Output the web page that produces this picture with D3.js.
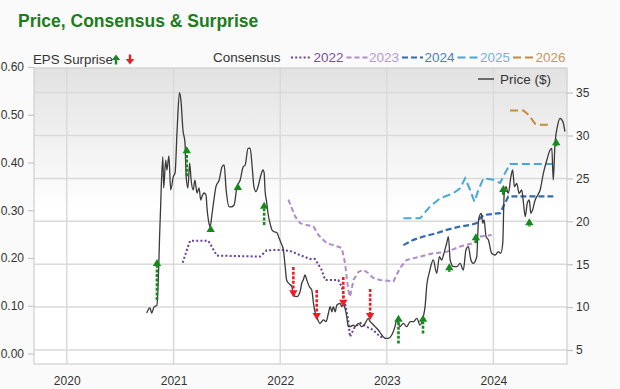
<!DOCTYPE html>
<html><head><meta charset="utf-8">
<script src="https://cdn.jsdelivr.net/npm/d3@7"></script>
<style>
body{margin:0;background:#fafafa;}
svg{display:block;font-family:"Liberation Sans",Arial,Helvetica,sans-serif;}
</style></head><body>
<svg id="c" width="620" height="389"></svg>
<script>
// ---------- DATA ----------
const yearTicks = ["2020-01-01","2021-01-01","2022-01-01","2023-01-01","2024-01-01"];
const epsTicks = [0, 0.1, 0.2, 0.3, 0.4, 0.5, 0.6];
const priceTicks = [5, 10, 15, 20, 25, 30, 35];

const priceSeries = [
["2020-10-01",9.31],["2020-10-12",9.90],["2020-10-18",9.31],["2020-10-26",10.01],["2020-11-05",10.24],
["2020-11-16",20.15],["2020-11-25",27.53],["2020-11-28",23.88],["2020-12-05",27.14],["2020-12-09",25.98],
["2020-12-16",27.61],["2020-12-22",23.65],["2020-12-31",25.20],["2021-01-06",25.63],["2021-01-13",30.64],
["2021-01-21",34.99],["2021-01-26",34.14],["2021-02-02",30.64],["2021-02-09",29.13],["2021-02-13",25.20],
["2021-02-19",23.88],["2021-02-25",26.79],["2021-03-02",24.81],["2021-03-09",23.65],["2021-03-15",24.81],
["2021-03-22",23.30],["2021-03-29",23.88],["2021-04-04",22.48],["2021-04-08",22.87],["2021-04-15",23.30],
["2021-04-22",23.07],["2021-04-25",21.70],["2021-05-02",19.80],["2021-05-06",19.37],["2021-05-13",20.97],
["2021-05-19",22.48],["2021-05-26",24.03],["2021-06-06",24.81],["2021-06-16",26.36],["2021-06-23",26.56],
["2021-06-30",23.65],["2021-07-10",21.70],["2021-07-17",21.67],["2021-07-27",21.90],["2021-08-06",24.03],
["2021-08-17",24.81],["2021-08-27",26.33],["2021-09-03",26.56],["2021-09-13",28.51],["2021-09-20",28.54],
["2021-09-27",26.36],["2021-10-03",24.03],["2021-10-10",23.45],["2021-10-17",24.03],["2021-10-27",25.40],
["2021-11-03",25.98],["2021-11-07",25.63],["2021-11-10",23.65],["2021-11-16",22.13],["2021-11-20",20.97],
["2021-11-27",19.80],["2021-12-04",18.99],["2021-12-11",18.79],["2021-12-21",18.67],["2021-12-28",18.05],
["2022-01-04",17.47],["2022-01-12",16.66],["2022-01-18",14.71],["2022-01-23",13.16],["2022-01-29",12.81],
["2022-02-10",12.38],["2022-02-15",11.41],["2022-02-27",11.21],["2022-03-10",11.79],["2022-03-16",12.81],
["2022-03-21",13.16],["2022-03-27",13.74],["2022-04-02",13.16],["2022-04-11",12.38],["2022-04-19",11.99],
["2022-04-25",10.44],["2022-04-30",9.46],["2022-05-06",8.88],["2022-05-17",8.11],["2022-05-23",8.30],
["2022-05-29",8.50],["2022-06-07",8.30],["2022-06-15",9.28],["2022-06-21",10.05],["2022-06-27",9.46],
["2022-07-02",10.05],["2022-07-08",9.46],["2022-07-14",10.24],["2022-07-25",10.44],["2022-07-31",10.05],
["2022-08-05",10.44],["2022-08-11",9.86],["2022-08-17",8.88],["2022-08-22",7.72],["2022-08-28",7.72],
["2022-09-09",7.91],["2022-09-14",7.72],["2022-09-26",8.11],["2022-10-07",7.72],["2022-10-19",8.11],
["2022-10-30",8.69],["2022-11-05",8.30],["2022-11-11",8.11],["2022-11-22",7.72],["2022-12-03",7.33],
["2022-12-15",6.75],["2022-12-26",6.36],["2023-01-06",6.36],["2023-01-18",6.75],["2023-01-29",7.72],
["2023-02-04",8.50],["2023-02-15",7.72],["2023-02-27",8.11],["2023-03-10",7.72],["2023-03-22",8.30],
["2023-04-02",8.30],["2023-04-14",8.69],["2023-04-25",7.91],["2023-05-06",8.88],["2023-05-12",10.05],
["2023-05-18",12.58],["2023-05-27",14.09],["2023-06-09",15.49],["2023-06-21",13.94],["2023-06-30",15.87],
["2023-07-08",15.49],["2023-07-14",16.07],["2023-07-25",17.44],["2023-07-31",18.21],["2023-08-06",15.49],
["2023-08-17",14.71],["2023-08-29",14.71],["2023-09-09",15.10],["2023-09-20",14.32],["2023-09-29",16.66],
["2023-10-07",17.04],["2023-10-16",15.49],["2023-10-24",15.10],["2023-11-05",15.87],["2023-11-11",20.15],
["2023-11-20",20.93],["2023-11-26",19.77],["2023-11-30",20.15],["2023-12-07",18.21],["2023-12-15",17.82],
["2023-12-26",16.27],["2024-01-07",16.07],["2024-01-18",16.46],["2024-01-26",16.27],["2024-02-02",17.44],
["2024-02-07",23.26],["2024-02-13",24.03],["2024-02-21",23.26],["2024-03-01",25.20],["2024-03-07",25.98],
["2024-03-13",24.03],["2024-03-21",24.43],["2024-03-29",23.26],["2024-04-07",23.65],["2024-04-13",22.10],
["2024-04-19",20.54],["2024-04-26",22.10],["2024-05-03",22.48],["2024-05-08",20.93],["2024-05-14",21.32],
["2024-05-23",22.48],["2024-06-01",23.07],["2024-06-09",23.65],["2024-06-20",25.59],["2024-07-02",27.14],
["2024-07-13",28.31],["2024-07-19",28.51],["2024-07-24",24.81],["2024-07-30",29.09],["2024-08-07",31.02],
["2024-08-16",32.00],["2024-08-26",31.61],["2024-09-02",30.44]
];

const cons2022 = [
["2021-02-01",0.190],["2021-02-26",0.236],["2021-04-30",0.236],["2021-05-29",0.205],["2021-10-24",0.203],
["2021-11-16",0.216],["2021-12-31",0.217],["2022-02-04",0.215],["2022-03-10",0.206],["2022-04-13",0.198],
["2022-04-30",0.198],["2022-05-23",0.175],["2022-06-04",0.154],["2022-07-19",0.154],["2022-07-31",0.139],
["2022-08-11",0.106],["2022-08-22",0.070],["2022-08-28",0.035],["2022-09-03",0.043],["2022-09-14",0.056],
["2022-10-02",0.064],["2022-10-24",0.056],["2022-11-16",0.049],["2022-12-09",0.035],["2022-12-26",0.033]
];
const cons2023 = [
["2022-01-29",0.322],["2022-02-21",0.287],["2022-03-10",0.273],["2022-04-02",0.269],["2022-04-25",0.266],
["2022-05-12",0.248],["2022-06-09",0.231],["2022-07-02",0.227],["2022-07-31",0.221],["2022-08-11",0.189],
["2022-08-22",0.133],["2022-08-28",0.119],["2022-09-09",0.154],["2022-09-26",0.171],["2022-10-13",0.175],
["2022-10-30",0.168],["2022-11-16",0.158],["2022-12-09",0.154],["2023-01-24",0.151],["2023-02-15",0.179],
["2023-03-10",0.196],["2023-04-25",0.203],["2023-06-09",0.210],["2023-07-25",0.213],["2023-09-09",0.224],
["2023-10-24",0.231],["2023-11-16",0.245],["2023-12-26",0.248]
];
const cons2024 = [
["2023-02-27",0.227],["2023-04-02",0.238],["2023-05-06",0.245],["2023-06-21",0.252],["2023-07-25",0.259],
["2023-09-09",0.266],["2023-10-13",0.269],["2023-11-05",0.273],["2023-11-16",0.283],["2023-11-28",0.290],
["2024-01-24",0.294],["2024-02-04",0.308],["2024-02-21",0.329],["2024-07-24",0.329]
];
const cons2025 = [
["2023-02-27",0.283],["2023-04-25",0.283],["2023-05-29",0.308],["2023-07-03",0.325],["2023-08-17",0.336],
["2023-09-09",0.346],["2023-09-26",0.367],["2023-10-13",0.343],["2023-10-28",0.318],["2023-11-11",0.343],
["2023-11-28",0.367],["2024-01-01",0.364],["2024-01-24",0.357],["2024-02-10",0.378],["2024-02-27",0.397],
["2024-07-24",0.397]
];
const cons2026 = [
["2024-02-27",0.509],["2024-04-13",0.509],["2024-04-30",0.500],["2024-05-23",0.481],["2024-06-09",0.479],
["2024-07-19",0.479]
];

const surpriseDates = ["2020-11-05","2021-02-15","2021-05-08","2021-08-09","2021-11-07","2022-02-15","2022-05-06","2022-08-05",
  "2022-11-05","2023-02-10","2023-05-05","2023-08-03","2023-11-02","2024-02-04","2024-05-03","2024-08-03"];
const surpriseEstimate = [0.112,0.371,0.255,0.343,0.269,0.181,0.133,0.160,0.135,0.021,0.042,0.171,0.231,0.332,0.266,0.434];
const surpriseActual   = [0.198,0.434,0.269,0.357,0.318,0.118,0.070,0.098,0.070,0.081,0.081,0.189,0.252,0.353,0.283,0.451];

const consensusYears = ["2022","2023","2024","2025","2026"];

// ---------- STYLE / LAYOUT ----------
const P = {l:34, r:567, t:68, b:364};
const consStyle = {
  "2022": {c:"#6b3f99", t:"#7a519f", dash:"2,2.2", w:2},
  "2023": {c:"#b18bcc", t:"#b79acb", dash:"5,3", w:2},
  "2024": {c:"#2f6bb3", t:"#4f7fbb", dash:"6,3", w:2.2},
  "2025": {c:"#45a8d6", t:"#74b3d6", dash:"8,4", w:2},
  "2026": {c:"#c58b3c", t:"#c49a63", dash:"8,4", w:2}
};
const consData = {"2022":cons2022,"2023":cons2023,"2024":cons2024,"2025":cons2025,"2026":cons2026};
const green = "#14891c", red = "#ee1c24";

const parse = s => new Date(s + "T00:00:00Z");
const svg = d3.select("#c");

const x = d3.scaleUtc().domain([parse("2019-09-11"), parse("2024-09-09")]).range([P.l, P.r]);
const yE = d3.scaleLinear().domain([0, 0.6]).range([353.5, 67]);
const yP = d3.scaleLinear().domain([5, 35]).range([350, 92.6]);

// defs
const defs = svg.append("defs");
const grad = defs.append("linearGradient").attr("id","bg").attr("x1",0).attr("y1",0).attr("x2",0).attr("y2",1);
grad.append("stop").attr("offset","0%").attr("stop-color","#e2e2e2");
grad.append("stop").attr("offset","48%").attr("stop-color","#ffffff");
grad.append("stop").attr("offset","100%").attr("stop-color","#ffffff");
defs.append("clipPath").attr("id","clip").append("rect")
  .attr("x",P.l).attr("y",P.t).attr("width",P.r-P.l).attr("height",P.b-P.t);

// title
svg.append("text").attr("x",18).attr("y",27).attr("fill","#1b7d1b")
  .attr("font-size","17.5px").attr("font-weight","bold").text("Price, Consensus & Surprise");

// plot background
svg.append("rect").attr("x",P.l).attr("y",P.t).attr("width",P.r-P.l).attr("height",P.b-P.t)
  .attr("fill","url(#bg)");

// gridlines
svg.append("g").selectAll("line").data(priceTicks).join("line")
  .attr("x1",P.l).attr("x2",P.r).attr("y1",d=>yP(d)).attr("y2",d=>yP(d))
  .attr("stroke","#dadada").attr("stroke-width",1.5);
svg.append("g").selectAll("line").data(yearTicks).join("line")
  .attr("x1",d=>x(parse(d))).attr("x2",d=>x(parse(d))).attr("y1",P.t).attr("y2",P.b)
  .attr("stroke","#dadada").attr("stroke-width",1.5);

// border
svg.append("rect").attr("x",P.l).attr("y",P.t).attr("width",P.r-P.l).attr("height",P.b-P.t)
  .attr("fill","none").attr("stroke","#cfcfcf").attr("stroke-width",1.2);

// axes
function styleAxis(g){
  g.select(".domain").remove();
  g.selectAll(".tick line").attr("stroke","#c4c4c4").attr("stroke-width",1.2);
  g.selectAll(".tick text").attr("fill","#333").attr("font-size","12px")
    .attr("font-family","'Liberation Sans',Arial,sans-serif");
}
svg.append("g").attr("transform",`translate(${P.l},0)`)
  .call(d3.axisLeft(yE).tickValues(epsTicks).tickFormat(d3.format(".2f")).tickSize(6).tickPadding(4))
  .call(styleAxis);
svg.append("g").attr("transform",`translate(${P.r},0)`)
  .call(d3.axisRight(yP).tickValues(priceTicks).tickFormat(d3.format("d")).tickSize(6).tickPadding(3))
  .call(styleAxis);
svg.append("g").attr("transform",`translate(0,${P.b})`)
  .call(d3.axisBottom(x).tickValues(yearTicks.map(parse)).tickFormat(d3.utcFormat("%Y")).tickSize(0).tickPadding(12))
  .call(styleAxis);

// consensus lines
const plot = svg.append("g").attr("clip-path","url(#clip)");
const lineE = d3.line().x(d=>x(parse(d[0]))).y(d=>yE(d[1]));
consensusYears.forEach(yr=>{
  const s = consStyle[yr];
  plot.append("path").datum(consData[yr]).attr("d",lineE)
    .attr("fill","none").attr("stroke",s.c).attr("stroke-width",s.w).attr("stroke-dasharray",s.dash);
});

// price line
const lineP = d3.line().x(d=>x(parse(d[0]))).y(d=>yP(d[1])).curve(d3.curveMonotoneX);
plot.append("path").datum(priceSeries).attr("d",lineP)
  .attr("fill","none").attr("stroke","#3a3a3a").attr("stroke-width",1.3);

// surprise arrows
function arrow(g, cx, yFrom, yTo, col){
  const up = yTo < yFrom;
  const hh = 7, hw = 4.2;
  const shaftEnd = up ? yTo + hh : yTo - hh;
  g.append("line").attr("x1",cx).attr("x2",cx).attr("y1",yFrom).attr("y2",shaftEnd)
    .attr("stroke",col).attr("stroke-width",2.6).attr("stroke-dasharray","3,1.6");
  const pts = up
    ? [[cx,yTo],[cx-hw,yTo+hh],[cx+hw,yTo+hh]]
    : [[cx,yTo],[cx-hw,yTo-hh],[cx+hw,yTo-hh]];
  g.append("path").attr("d","M"+pts.map(p=>p.join(",")).join("L")+"Z").attr("fill",col);
}
surpriseDates.forEach((d,i)=>{
  const col = surpriseActual[i] >= surpriseEstimate[i] ? green : red;
  arrow(plot, x(parse(d)), yE(surpriseEstimate[i]), yE(surpriseActual[i]), col);
});

// legend: EPS Surprise
svg.append("text").attr("x",33).attr("y",64).attr("font-size","13.3px").attr("fill","#333").text("EPS Surprise");
function legArrow(cx, up, col){
  const g = svg.append("g");
  const top = 54.5, bot = 64.5;
  if(up){
    g.append("line").attr("x1",cx).attr("x2",cx).attr("y1",top+4).attr("y2",bot).attr("stroke",col).attr("stroke-width",2.4);
    g.append("path").attr("d",`M${cx},${top}L${cx-4.2},${top+5.5}L${cx+4.2},${top+5.5}Z`).attr("fill",col);
  } else {
    g.append("line").attr("x1",cx).attr("x2",cx).attr("y1",top).attr("y2",bot-4).attr("stroke",col).attr("stroke-width",2.4);
    g.append("path").attr("d",`M${cx},${bot}L${cx-4.2},${bot-5.5}L${cx+4.2},${bot-5.5}Z`).attr("fill",col);
  }
}
legArrow(116, true, green);
legArrow(130, false, red);

// legend: Consensus
svg.append("text").attr("x",213).attr("y",62).attr("font-size","13.5px").attr("fill","#333").text("Consensus");
consensusYears.forEach((yr,i)=>{
  const s = consStyle[yr];
  const lx = 291 + i*55.5;
  svg.append("line").attr("x1",lx).attr("x2",lx+21).attr("y1",57.5).attr("y2",57.5)
    .attr("stroke",s.c).attr("stroke-width",s.w).attr("stroke-dasharray",s.dash);
  svg.append("text").attr("x",lx+22.5).attr("y",62).attr("font-size","13.5px").attr("fill",s.t).text(yr);
});

// legend: Price
svg.append("line").attr("x1",478).attr("x2",494).attr("y1",79).attr("y2",79).attr("stroke","#444").attr("stroke-width",1.5);
svg.append("text").attr("x",500).attr("y",83.5).attr("font-size","13.5px").attr("fill","#333").text("Price ($)");
</script>
</body></html>
